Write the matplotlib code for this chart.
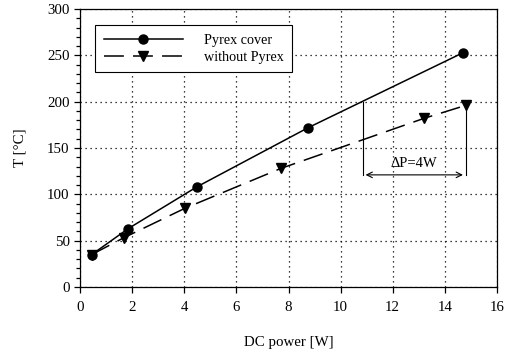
import matplotlib.pyplot as plt
from matplotlib.ticker import MultipleLocator

plt.rcParams['font.family'] = ['Liberation Serif', 'DejaVu Serif']

# Pyrex cover
p_pyrex = [0.45, 1.85, 4.48, 8.76, 14.71]
t_pyrex = [35, 63, 108, 172, 253]
# without Pyrex
p_open = [0.45, 1.67, 4.03, 7.71, 13.2, 14.8]
t_open = [35, 53, 85, 128, 182, 196]

dp_left, dp_right, dp_y = 10.85, 14.8, 121

fig = plt.figure(figsize=(5.05, 3.56), dpi=100)
ax = fig.add_axes([80/505, 1-287/356, 417/505, 278/356])

ax.plot(p_pyrex, t_pyrex, '-', color='black', lw=1.1, marker='o', ms=6.5,
        label='Pyrex cover', zorder=3)
ax.plot(p_open, t_open, color='black', lw=1.1, ls=(0, (13, 6)), marker='v',
        ms=6.5, label='without Pyrex', zorder=3)

# delta P annotation
ax.plot([dp_left, dp_left], [200, dp_y], color='black', lw=0.8)
ax.plot([dp_right, dp_right], [t_open[-1], dp_y], color='black', lw=0.8)
ax.annotate('', xy=(dp_left, dp_y), xytext=(dp_right, dp_y),
            arrowprops=dict(arrowstyle='<->', color='black', lw=0.8))
ax.text((dp_left + dp_right) / 2, dp_y + 5, '\u0394P=4W', ha='center',
        va='bottom', fontsize=10.5)

ax.set_xlim(0, 16)
ax.set_ylim(0, 300)
ax.xaxis.set_major_locator(MultipleLocator(2))
ax.yaxis.set_major_locator(MultipleLocator(50))
ax.yaxis.set_minor_locator(MultipleLocator(10))
ax.tick_params(labelsize=10.7, direction='out', length=4, width=0.9)
ax.tick_params(which='minor', length=3, width=0.9)
ax.tick_params(axis='x', pad=6)
ax.grid(True, color='black', ls=(0, (1, 3)), lw=0.9)
for s in ax.spines.values():
    s.set_linewidth(0.9)

ax.set_xlabel('DC power [W]', fontsize=10.7, labelpad=16)
ax.set_ylabel('T [\u00b0C]', fontsize=10.7, labelpad=15)

leg = ax.legend(loc='upper left', bbox_to_anchor=(0.036, 0.942), fontsize=10.2,
                handlelength=5.6, fancybox=False, framealpha=1,
                edgecolor='black', borderpad=0.6, handletextpad=1.5,
                labelspacing=0.3, borderaxespad=0)
leg.get_frame().set_linewidth(0.8)

fig.savefig('out.png', dpi=100)
